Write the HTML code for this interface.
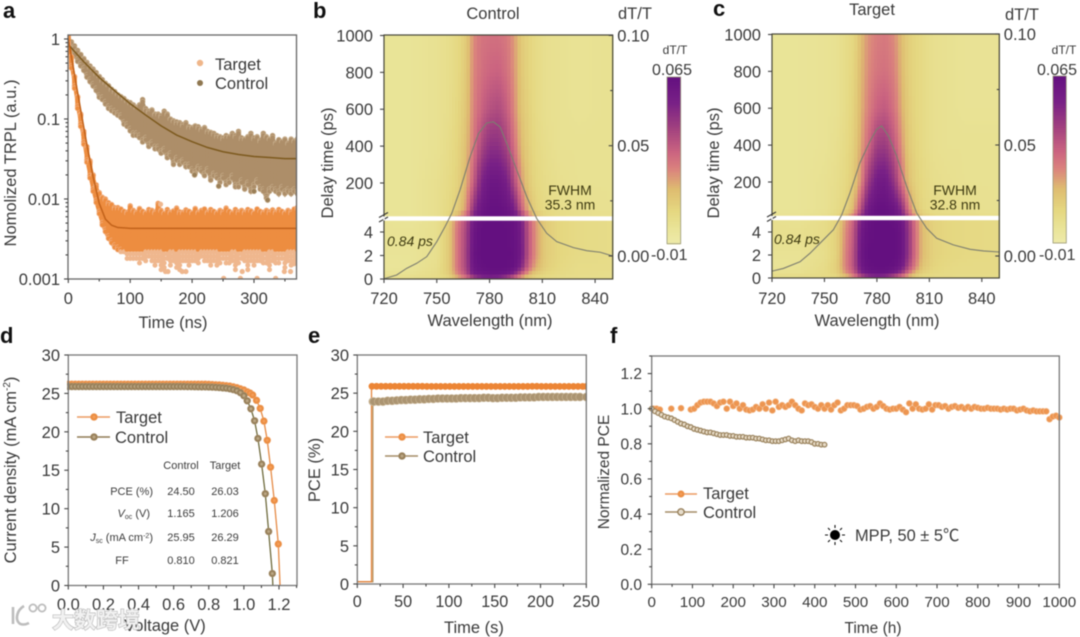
<!DOCTYPE html>
<html lang="en">
<head>
<meta charset="utf-8">
<title>Perovskite device characterisation figure</title>
<style>
html,body{margin:0;padding:0;background:#fff;width:1080px;height:637px;overflow:hidden}
svg{display:block;filter:blur(0.5px)}
text{font-family:"Liberation Sans","Noto Sans CJK SC",sans-serif;fill:#3a3a3a}
.t{font-size:16.5px}
.letter{font-size:22px;font-weight:bold;fill:#111}
.tbl{font-size:11px;fill:#3c3c3c}
.ann{font-size:14px;fill:#3f3b12}
</style>
</head>
<body>
<svg id="fig" xmlns="http://www.w3.org/2000/svg" width="1080" height="637" viewBox="0 0 1080 637">
<defs>
<radialGradient id="gt"><stop offset="0" stop-color="#f6a566"/><stop offset="0.7" stop-color="#ea8838"/><stop offset="1" stop-color="#eea873"/></radialGradient>
<radialGradient id="gc"><stop offset="0" stop-color="#cdb998"/><stop offset="0.7" stop-color="#8f7750"/><stop offset="1" stop-color="#b09a78"/></radialGradient>
<clipPath id="clipA"><rect x="68" y="35" width="228" height="244"/></clipPath>
<clipPath id="clipD"><rect x="67" y="355" width="230" height="231"/></clipPath>
<clipPath id="clipE"><rect x="357" y="355" width="230" height="229"/></clipPath>
</defs>
<rect width="1080" height="637" fill="#fff"/>

<g id="panelA"></g>
<g id="panelB"></g>
<g id="panelC"></g>
<g id="panelD"></g>
<g id="panelE"></g>
<g id="panelF"></g>

<text class="letter" x="3" y="18">a</text>
<text class="letter" x="313" y="18">b</text>
<text class="letter" x="713" y="16">c</text>
<text class="letter" x="0" y="343">d</text>
<text class="letter" x="308" y="343">e</text>
<text class="letter" x="610" y="343">f</text>

<!-- panel a text -->
<text class="t" transform="translate(16,163) rotate(-90)" text-anchor="middle">Nomolized TRPL (a.u.)</text>
<text class="t" x="173" y="328" text-anchor="middle">Time (ns)</text>
<g>
<circle cx="200" cy="63" r="3.2" fill="#efb68a"/>
<text class="t" x="215" y="70">Target</text>
<circle cx="200" cy="83" r="3" fill="#8f7750"/>
<text class="t" x="215" y="89">Control</text>
</g>

<!-- panel b text -->
<text class="t" x="493" y="19" text-anchor="middle" font-size="16">Control</text>
<text class="t" x="618" y="19">dT/T</text>
<text class="t" transform="translate(333,163) rotate(-90)" text-anchor="middle">Delay time (ps)</text>
<text class="t" x="490" y="326" text-anchor="middle">Wavelength (nm)</text>
<text x="675" y="54" text-anchor="middle" font-size="12">dT/T</text>
<text x="672" y="75" text-anchor="middle" font-size="16">0.065</text>
<text x="651" y="260" font-size="16">-0.01</text>

<!-- panel c text -->
<text class="t" x="872" y="15" text-anchor="middle" font-size="16">Target</text>
<text class="t" x="1005" y="20">dT/T</text>
<text class="t" transform="translate(719,163) rotate(-90)" text-anchor="middle">Delay time (ps)</text>
<text class="t" x="877" y="326" text-anchor="middle">Wavelength (nm)</text>
<text x="1064" y="54" text-anchor="middle" font-size="12">dT/T</text>
<text x="1057" y="75" text-anchor="middle" font-size="16">0.065</text>
<text x="1039" y="260" font-size="16">-0.01</text>

<!-- panel d text -->
<text class="t" transform="translate(16,470) rotate(-90)" text-anchor="middle">Current density (mA cm<tspan font-size="10" dy="-6">-2</tspan><tspan dy="6">)</tspan></text>
<text class="t" x="165" y="631" text-anchor="middle">Voltage (V)</text>
<g>
<line x1="77" y1="417" x2="110" y2="417" stroke="#ec9a62" stroke-width="1.4"/>
<circle cx="94" cy="417" r="3.8" fill="url(#gt)"/>
<text class="t" x="116" y="423">Target</text>
<line x1="77" y1="437" x2="110" y2="437" stroke="#8f7a55" stroke-width="1.4"/>
<circle cx="94" cy="437" r="3.8" fill="url(#gc)"/>
<text class="t" x="115" y="443">Control</text>
</g>
<g>
<text class="tbl" x="181" y="469" text-anchor="middle">Control</text>
<text class="tbl" x="225" y="469" text-anchor="middle">Target</text>
<text class="tbl" x="153" y="495" text-anchor="end">PCE (%)</text>
<text class="tbl" x="181" y="495" text-anchor="middle">24.50</text>
<text class="tbl" x="225" y="495" text-anchor="middle">26.03</text>
<text class="tbl" x="150" y="517" text-anchor="end"><tspan font-style="italic">V</tspan><tspan font-size="7" dy="2">oc</tspan><tspan dy="-2"> (V)</tspan></text>
<text class="tbl" x="181" y="517" text-anchor="middle">1.165</text>
<text class="tbl" x="225" y="517" text-anchor="middle">1.206</text>
<text class="tbl" x="153" y="541" text-anchor="end"><tspan font-style="italic">J</tspan><tspan font-size="7" dy="2">sc</tspan><tspan dy="-2"> (mA cm</tspan><tspan font-size="7" dy="-3">-2</tspan><tspan dy="3">)</tspan></text>
<text class="tbl" x="181" y="541" text-anchor="middle">25.95</text>
<text class="tbl" x="225" y="541" text-anchor="middle">26.29</text>
<text class="tbl" x="122" y="564" text-anchor="middle">FF</text>
<text class="tbl" x="181" y="564" text-anchor="middle">0.810</text>
<text class="tbl" x="225" y="564" text-anchor="middle">0.821</text>
</g>

<!-- panel e text -->
<text class="t" transform="translate(320,470) rotate(-90)" text-anchor="middle">PCE (%)</text>
<text class="t" x="474" y="633" text-anchor="middle">Time (s)</text>
<g>
<line x1="385" y1="437" x2="418" y2="437" stroke="#ec9a62" stroke-width="1.4"/>
<circle cx="402" cy="437" r="3.8" fill="url(#gt)"/>
<text class="t" x="423" y="443">Target</text>
<line x1="385" y1="456" x2="418" y2="456" stroke="#a58c66" stroke-width="1.4"/>
<circle cx="402" cy="456" r="3.8" fill="url(#gc)"/>
<text class="t" x="423" y="462">Control</text>
</g>

<!-- panel f text -->
<text class="t" transform="translate(609,472) rotate(-90)" text-anchor="middle" style="font-size:15.5px">Normalized PCE</text>
<text class="t" x="873" y="633" text-anchor="middle" style="font-size:15.5px">Time (h)</text>
<g>
<line x1="665" y1="494" x2="697" y2="494" stroke="#ec9a62" stroke-width="1.4"/>
<circle cx="681" cy="494" r="3.6" fill="url(#gt)"/>
<text class="t" x="703" y="499">Target</text>
<line x1="665" y1="512" x2="697" y2="512" stroke="#a58c66" stroke-width="1.4"/>
<circle cx="681" cy="512" r="3.2" fill="#e6dccb" stroke="#97805c" stroke-width="1.4"/>
<text class="t" x="703" y="518">Control</text>
</g>
<g stroke="#111" stroke-width="1.1">
<circle cx="835" cy="535" r="5" fill="#000" stroke="none"/>
<path d="M835 525v3M835 542v3M825 535h3M842 535h3M828 528l2 2M840 540l2 2M842 528l-2 2M830 540l-2 2" fill="none"/>
</g>
<text x="855" y="541" font-size="16.4">MPP, 50 ± 5℃</text>

<g id="overlay"></g>

<!-- watermark -->
<g>
<g fill="none" stroke="#bdbdbd" stroke-width="2.6">
<path d="M13 607v17M24 606c-7 4-9 13-5 17 2 2 6 2 10 0"/>
<circle cx="33" cy="608" r="3.6" stroke-width="1.8"/>
<circle cx="42" cy="608" r="3.6" stroke-width="1.8"/>
</g>
<text x="52" y="628" font-size="22" font-weight="700" style="fill:#f1f1f1;stroke:#b2b2b2;stroke-width:1.1;paint-order:stroke;font-family:'Liberation Sans','Noto Sans CJK SC',sans-serif">大数跨境</text>
</g>
</svg>

<script>
/* ---------- panel a data ---------- */
const aTimes=[0,5,10,15,20,25,30,35,40,45,50,55,60,65,70,75,80,85,90,95,100,105,110,115,120,125,130,135,140,145,150,155,160,165,170,175,180,185,190,195,200,205,210,215,220,225,230,235,240,245,250,255,260,265,270,275,280,285,290,295,300,305,310,315,320,325,330,335,340,345,350,355,360,365,370];
const aControlUpper=[1.05,.92,.82,.72,.64,.57,.51,.46,.42,.38,.34,.31,.28,.26,.235,.22,.2,.19,.18,.165,.16,.15,.14,.15,.175,.135,.125,.13,.115,.115,.11,.125,.115,.10,.095,.092,.09,.085,.09,.08,.078,.082,.08,.074,.078,.07,.068,.066,.062,.06,.058,.062,.06,.066,.062,.07,.058,.056,.06,.066,.058,.06,.054,.066,.06,.056,.062,.05,.055,.052,.056,.05,.056,.053,.056];
const aControlLower=[.85,.72,.6,.52,.45,.39,.33,.28,.25,.22,.18,.17,.15,.135,.125,.115,.11,.1,.085,.08,.07,.062,.06,.058,.05,.052,.045,.048,.042,.04,.036,.038,.032,.033,.027,.03,.026,.028,.024,.025,.022,.02,.023,.021,.019,.022,.017,.019,.018,.016,.018,.015,.016,.018,.014,.014,.016,.013,.015,.012,.014,.016,.013,.012,.0098,.012,.013,.012,.011,.013,.011,.012,.011,.012,.0115];
const aTargetUpper=[1.1,.6,.34,.19,.115,.07,.045,.03,.02,.015,.012,.0105,.01,.009,.0085,.0078,.0078,.0075,.0070,.0068,.0082,.0072,.0068,.0076,.0070,.0067,.0074,.0072,.0068,.0088,.0072,.0066,.0074,.0068,.0071,.0077,.0069,.0068,.0073,.0070,.0067,.0076,.0068,.0072,.0075,.0068,.0074,.0070,.0067,.0072,.0069,.0077,.0070,.0067,.0074,.0069,.0072,.0068,.0074,.0071,.0067,.0075,.0070,.0068,.0072,.0069,.0073,.0068,.0074,.0070,.0067,.0072,.0069,.0075,.0078];
const aTargetLower=[.8,.42,.24,.13,.08,.048,.028,.018,.012,.0085,.0062,.0046,.0037,.0031,.0027,.0024,.0023,.0021,.0020,.0018,.0016,.0018,.0016,.0015,.0018,.0016,.0017,.0015,.0014,.0016,.0013,.0013,.0016,.0014,.0015,.0013,.0013,.0016,.0015,.0014,.0016,.0016,.0014,.0017,.0015,.0016,.0014,.0016,.0014,.0015,.0016,.0015,.0014,.0016,.0013,.0014,.0016,.0015,.0013,.0016,.0014,.0015,.0016,.0014,.0015,.0013,.0016,.0015,.0014,.0016,.0013,.0015,.0014,.0016,.0015];
const aTargetOutlierTime=[149,157,161,184,190,251,278,281,305,335,349,359,365];
const aTargetOutlierValue=[.0086,.00124,.00124,.00124,.00124,.00102,.00102,.00124,.00102,.00102,.00124,.00124,.00155];
const aControlOutlierTime=[204,322,243,300];
const aControlOutlierValue=[.02,.0097,.0145,.0125];
const aControlFitTime=[0,25,50,75,100,125,150,175,200,225,250,275,300,325,350,370];
const aControlFitValue=[.85,.52,.33,.225,.155,.112,.082,.063,.052,.044,.039,.036,.034,.033,.032,.032];
const aTargetFitTime=[0,10,20,30,40,50,60,70,80,100,370];
const aTargetFitValue=[1,.36,.13,.048,.019,.0088,.0056,.0047,.0044,.0043,.0043];
const aXTicks=[0,100,200,300];
const aXMinor=[50,150,250,350];
const aYTicks=[1,0.1,0.01,0.001];
const aYTickLabels=['1','0.1','0.01','0.001'];

/* ---------- panels b, c data (dT/T x 1000) ---------- */
const hmWavelengths=[720,735,750,757,762,767,771,775,780,785,790,794,798,802,806,812,820,830,850];
const hmDelays=[1000,800,600,400,200,50,5,4,2,1,0.4,0];
const controlMatrix=[
[-3,-3,-1,1,4,10,22,27,28,28,26,20,10,6,3,0,-1,-2,-1],
[-3,-3,-1,1,4,11,23,28,31,32,28,21,11,6,3,0,-1,-2,-1],
[-3,-3,-1,1,5,12,24,31,37,39,33,23,12,7,3,0,-1,-2,-1],
[-3,-3,-1,2,6,14,26,39,48,48,41,28,15,8,4,1,-1,-1,-1],
[-3,-3,0,3,7,17,33,52,60,60,55,39,21,10,5,2,0,-1,-1],
[-3,-3,0,4,9,22,48,60,64,64,62,56,34,16,7,3,1,0,-1],
[-2,-3,0,9,26,40,58,64,65,65,64,63,56,34,20,9,5,3,2],
[-2,-2,0,10,28,42,60,65,65,65,65,63,57,35,21,9,5,3,2],
[-3,-3,0,10,28,43,62,65,65,65,65,64,58,35,21,9,5,3,2],
[-4,-3,1,10,28,42,60,64,65,65,65,63,52,30,17,8,4,2,2],
[-1,-1,2,9,24,38,56,60,62,62,60,50,31,16,9,5,3,2,1],
[1,1,2,5,14,24,36,46,50,46,35,24,14,8,5,3,2,1,1]];
const targetMatrix=[
[-3,-3,-2,-1,2,5,14,21,25,26,22,14,8,5,3,0,-1,-2,-2],
[-3,-3,-2,-1,2,6,15,22,27,28,24,15,8,5,3,0,-1,-2,-2],
[-3,-3,-2,-1,2,7,16,24,32,34,27,17,9,5,3,0,-1,-2,-2],
[-3,-3,-2,0,3,8,18,29,43,44,34,21,10,6,3,0,-1,-1,-1],
[-3,-3,-1,1,4,10,22,44,57,58,46,28,13,7,4,1,0,-1,-1],
[-3,-3,-1,2,6,16,38,58,64,64,61,50,26,11,5,2,1,0,-1],
[0,-1,2,6,20,34,55,63,65,65,64,60,44,26,13,7,5,4,3],
[0,0,2,7,22,36,58,64,65,65,65,62,46,27,14,7,5,4,3],
[-2,-2,1,7,24,38,60,65,65,65,65,62,46,27,14,7,5,4,3],
[-3,-2,2,8,24,38,58,64,65,65,64,58,40,24,12,6,4,3,3],
[0,0,3,7,20,32,52,60,62,62,56,44,26,13,7,4,3,3,3],
[3,3,3,4,10,20,32,42,46,42,30,20,12,6,4,3,3,2,2]];
const controlSpecWl=[720,727.2,732.9,738.6,744.3,750,754.7,758.5,763.2,768.9,773.7,778.4,782.2,786,789.8,795.5,801.2,806.8,812.5,818.2,827.7,835.3,842.9,850];
const controlSpecVal=[-.0103,-.0086,-.0056,-.0033,-.0003,.0065,.0133,.0193,.0299,.0449,.0555,.0603,.0608,.0585,.0510,.0389,.0268,.0170,.0103,.0065,.0038,.0024,.0017,0];
const targetSpecWl=[720,726.5,736,741.7,748.4,755.1,759.9,764.6,770.3,776.1,779.9,782.7,786.6,791.3,797,802.8,808.5,814.2,823.7,833.3,840.9,850];
const targetSpecVal=[-.0068,-.0056,-.0026,.0012,.0065,.0118,.0186,.0284,.0420,.0518,.0571,.0586,.0541,.0450,.0314,.0193,.0125,.0080,.0050,.0030,.0023,.0018];
const hmXTicks=[720,750,780,810,840];
const hmYTicksUpper=[1000,800,600,400,200];
const hmYTicksLower=[4,2,0];
const hmRightTicks=[0.10,0.05,0.00];
const hmRightLabels=['0.10','0.05','0.00'];
const hmRightMinor=[0.075,0.025];

/* ---------- panel d data ---------- */
const dTargetV=[0,.02,.04,.06,.08,.1,.12,.14,.16,.18,.2,.22,.24,.26,.28,.3,.32,.34,.36,.38,.4,.42,.44,.46,.48,.5,.52,.54,.56,.58,.6,.62,.64,.66,.68,.7,.72,.74,.76,.78,.8,.82,.84,.86,.88,.9,.92,.94,.96,.98,1.0,1.02,1.035,1.05,1.072,1.093,1.114,1.133,1.152,1.173,1.196];
const dTargetJ=[26.2,26.2,26.2,26.2,26.2,26.2,26.2,26.2,26.2,26.2,26.2,26.2,26.2,26.2,26.2,26.2,26.2,26.2,26.2,26.2,26.2,26.2,26.2,26.2,26.2,26.2,26.2,26.2,26.2,26.2,26.2,26.2,26.2,26.2,26.2,26.2,26.2,26.2,26.2,26.2,26.18,26.15,26.12,26.1,26.05,26,25.95,25.85,25.75,25.6,25.45,25.2,25.05,24.8,24.1,23.05,21.4,18.9,15.4,11.07,5.4];
const dControlV=[0,.02,.04,.06,.08,.1,.12,.14,.16,.18,.2,.22,.24,.26,.28,.3,.32,.34,.36,.38,.4,.42,.44,.46,.48,.5,.52,.54,.56,.58,.6,.62,.64,.66,.68,.7,.72,.74,.76,.78,.8,.82,.84,.86,.88,.9,.92,.94,.96,.98,1.0,1.019,1.04,1.061,1.08,1.101,1.122,1.141,1.162];
const dControlJ=[25.9,25.9,25.9,25.9,25.9,25.9,25.9,25.9,25.9,25.9,25.9,25.9,25.9,25.9,25.9,25.9,25.9,25.9,25.9,25.9,25.9,25.9,25.9,25.9,25.9,25.9,25.9,25.9,25.9,25.9,25.9,25.9,25.9,25.9,25.88,25.88,25.87,25.86,25.85,25.85,25.84,25.82,25.8,25.76,25.72,25.68,25.6,25.5,25.35,25.1,24.7,24.04,23,21.44,19.14,15.8,11.94,7.03,1.56];
const dXTicks=[0,.2,.4,.6,.8,1.0,1.2];
const dXTickLabels=['0.0','0.2','0.4','0.6','0.8','1.0','1.2'];
const dXMinor=[.1,.3,.5,.7,.9,1.1,1.3];
const dYTicks=[0,5,10,15,20,25,30];
const dYMinor=[2.5,7.5,12.5,17.5,22.5,27.5];

/* ---------- panel e data ---------- */
const eTargetTime=[0,15.5,15.5,16,21,26,31,36,41,46,51,56,61,66,71,76,81,86,91,96,101,106,111,116,121,126,131,136,141,146,151,156,161,166,171,176,181,186,191,196,201,206,211,216,221,226,231,236,241,246,250];
const eTargetPCE=[.3,.3,25.4,25.9,25.9,25.9,25.9,25.9,25.9,25.9,25.9,25.9,25.9,25.9,25.9,25.88,25.88,25.88,25.88,25.88,25.88,25.88,25.88,25.88,25.88,25.88,25.88,25.88,25.88,25.88,25.88,25.88,25.88,25.88,25.88,25.88,25.88,25.88,25.9,25.9,25.88,25.88,25.88,25.88,25.88,25.88,25.88,25.88,25.88,25.88,25.88];
const eControlTime=[0,17,17,18,23,28,33,38,43,48,53,58,63,68,73,78,83,88,93,98,103,108,113,118,123,128,133,138,143,148,153,158,163,168,173,178,183,188,193,198,203,208,213,218,223,228,233,238,243,250];
const eControlPCE=[.3,.3,23.9,23.9,23.9,23.9,24,24,24.05,24.1,24.1,24.15,24.15,24.2,24.2,24.25,24.25,24.3,24.3,24.3,24.3,24.3,24.35,24.35,24.35,24.35,24.35,24.4,24.4,24.35,24.35,24.4,24.4,24.4,24.4,24.45,24.45,24.45,24.45,24.5,24.5,24.5,24.5,24.5,24.5,24.5,24.5,24.5,24.5,24.5];
const eXTicks=[0,50,100,150,200,250];
const eXMinor=[25,75,125,175,225];
const eYTicks=[0,5,10,15,20,25,30];
const eYMinor=[2.5,7.5,12.5,17.5,22.5,27.5];

/* ---------- panel f data ---------- */
const fTargetTime=[4,12,20,48,72,96,104,112,120,128,136,144,152,160,168,176,184,192,200,208,216,224,232,240,248,256,264,272,280,288,296,304,312,320,328,336,344,352,360,368,376,384,392,400,408,416,424,432,440,448,456,464,472,480,488,496,504,512,520,528,536,544,552,560,568,576,584,592,600,608,616,624,632,640,648,656,664,672,680,688,696,704,712,720,728,736,744,752,760,768,776,784,792,800,808,816,824,832,840,848,856,864,872,880,888,896,904,912,920,928,936,944,952,960,968,976,984,992,1000];
const fTargetPCE=[1.0,1.0,.995,1.0,1.003,.995,1.0,1.02,1.035,1.04,1.04,1.04,1.03,1.015,1.035,1.04,1.0,1.04,1.015,1.03,1.0,1.02,.995,.99,.995,1.01,1.0,1.025,1.0,1.035,.99,1.04,1.01,1.02,1.01,1.02,1.04,1.02,1.0,.99,1.03,1.02,1.025,1.01,1.0,1.02,1.0,1.02,.995,1.02,1.035,.99,1.0,1.02,1.02,1.02,1.015,.995,1.0,1.01,1.015,1.0,1.01,1.03,1.015,1.0,.995,1.0,1.0,1.01,.995,.98,1.03,1.0,1.025,1.0,.995,1.0,1.025,.995,1.02,1.02,1.01,1.015,1.0,1.01,1.015,1.005,1.01,1.0,1.01,1.0,1.01,1.005,1.0,1.0,1.005,1.0,1.0,1.0,.995,1.0,.995,1.0,1.0,.99,.995,1.0,.99,.985,.99,.985,.985,.985,.985,.94,.955,.96,.95];
const fControlTime=[0,8,16,24,32,40,48,56,64,72,80,88,96,104,112,120,128,136,144,152,160,168,176,184,192,200,208,216,224,232,240,248,256,264,272,280,288,296,304,312,320,328,336,344,352,360,368,376,384,392,400,408,416,424];
const fControlPCE=[1.0,.985,.975,.965,.955,.95,.945,.935,.925,.915,.91,.90,.895,.885,.88,.875,.87,.865,.865,.86,.855,.85,.85,.85,.845,.845,.84,.84,.84,.835,.835,.835,.83,.83,.825,.82,.82,.815,.815,.815,.82,.825,.83,.82,.815,.82,.815,.815,.815,.81,.80,.80,.795,.795];
const fXTicks=[0,100,200,300,400,500,600,700,800,900,1000];
const fXMinor=[50,150,250,350,450,550,650,750,850,950];
const fYTicks=[0,.2,.4,.6,.8,1.0,1.2];
const fYTickLabels=['0.0','0.2','0.4','0.6','0.8','1.0','1.2'];
const fYMinor=[.1,.3,.5,.7,.9,1.1,1.3];

/* ---------- helpers ---------- */
const NS='http://www.w3.org/2000/svg';
function mk(tag,props,parent){
  const e=document.createElementNS(NS,tag);
  for(const k in props) e.setAttribute(k,props[k]);
  parent.appendChild(e);
  return e;
}
function linear(d0,d1,r0,r1){return v=>r0+(v-d0)*(r1-r0)/(d1-d0);}
function logScale(yAtOne,pxPerDecade){return v=>yAtOne-Math.log10(v)*pxPerDecade;}

function addTick(g,x1,y1,x2,y2){
  const l=mk('line',{x1:x1,y1:y1,x2:x2,y2:y2,stroke:'#444',"stroke-width":1.1},g);
  
  
}
function addLabel(g,x,y,str,anchor,size){
  const t=mk('text',{x:x,y:y,"text-anchor":anchor,"font-size":size},g);
  
  
  t.textContent=str;
}
function addFrame(g,x0,y0,x1,y1,color,w){
  const r=mk('rect',{x:x0,y:y0,width:x1-x0,height:y1-y0,fill:'none',stroke:color,"stroke-width":w},g);
  
  
}
function xTicks(g,sx,vals,labels,yAxis,baseline,size,minor){
  vals.forEach((v,i)=>{
    addTick(g,sx(v),yAxis,sx(v),yAxis+4);
    addLabel(g,sx(v),baseline,labels?labels[i]:String(v),'middle',size);
  });
  (minor||[]).forEach(v=>addTick(g,sx(v),yAxis,sx(v),yAxis+2.5));
}
function yTicks(g,sy,vals,labels,xAxis,labelX,size,minor){
  vals.forEach((v,i)=>{
    addTick(g,xAxis-4,sy(v),xAxis,sy(v));
    addLabel(g,labelX,sy(v)+size*0.36,labels?labels[i]:String(v),'end',size);
  });
  (minor||[]).forEach(v=>addTick(g,xAxis-2.5,sy(v),xAxis,sy(v)));
}
function pathFrom(xs,ys,sx,sy){
  return xs.map((x,i)=>(i?'L':'M')+sx(x).toFixed(2)+' '+sy(ys[i]).toFixed(2)).join('');
}

/* ---------- panel a ---------- */
(function(){
  const g=document.getElementById('panelA');
  const sx=linear(0,300,68.3,254);
  const sy=logScale(39,80);
  const cloud=mk('g',{"clip-path":'url(#clipA)'},g);
  
  
  const STEP=0.028;
  function drawCloud(upper,lower,fill,edge,paleBelow,paleFill,name){
    const lowClamped=lower.map(v=>Math.max(v,paleBelow));
    const xs=aTimes.concat(aTimes.slice().reverse());
    const ys=upper.concat(lowClamped.slice().reverse());
    const band=mk('path',{d:pathFrom(xs,ys,sx,sy)+'Z',fill:fill,stroke:fill,"stroke-width":2},cloud);
    
    
    aTimes.forEach((t,i)=>{
      const lo=Math.log10(lower[i]),hi=Math.log10(upper[i]);
      const levels=[hi];
      for(let k=Math.floor(hi/STEP);k*STEP>=lo;k--) levels.push(k*STEP);
      levels.forEach((lv,n)=>{
        const val=Math.pow(10,lv);
        const pale=val<paleBelow;
        if(pale&&(i+2*n)%4>1) return;
        const onEdge=n<2||n>=levels.length-2;
        const c=mk('circle',{cx:sx(t).toFixed(1),cy:sy(val).toFixed(1),r:2.5,fill:pale?paleFill:fill,stroke:(onEdge&&!pale)?edge:'none',"stroke-width":0.6},cloud);
        
        
      });
    });
  }
  drawCloud(aControlUpper,aControlLower,'#ad8e69','#c9b08e',0,'#ad8e69','control-trpl-point');
  drawCloud(aTargetUpper,aTargetLower,'#ed8d40','#f2b48a',0.0023,'#efb78e','target-trpl-point');
  aControlOutlierTime.forEach((t,i)=>{
    const c=mk('circle',{cx:sx(t),cy:sy(aControlOutlierValue[i]),r:2.6,fill:'#9a7f58',stroke:'#cdb492',"stroke-width":0.6},cloud);
    
    
  });
  aTargetOutlierTime.forEach((t,i)=>{
    const c=mk('circle',{cx:sx(t),cy:sy(aTargetOutlierValue[i]),r:2.6,fill:'#efb78e'},cloud);
    
    
  });
  const f1=mk('path',{d:pathFrom(aControlFitTime,aControlFitValue,sx,sy),fill:'none',stroke:'#7d5a1e',"stroke-width":1.5},cloud);
  
  
  const f2=mk('path',{d:pathFrom(aTargetFitTime,aTargetFitValue,sx,sy),fill:'none',stroke:'#c2621a',"stroke-width":1.5},cloud);
  
  
  addFrame(g,68,35,296.5,279,'#666',1.3);
  xTicks(g,sx,aXTicks,null,279,304,16.5,aXMinor);
  yTicks(g,sy,aYTicks,aYTickLabels,68,60,16.5);
  [-1,-2,-3].forEach(d=>{
    [2,3,4,5,6,7,8,9].forEach(m=>addTick(g,65.5,sy(m*Math.pow(10,d)),68,sy(m*Math.pow(10,d))));
  });
})();

/* ---------- panels b, c ---------- */
const cmapStops=[[0,238,235,170],[.1,233,227,150],[.2,229,215,128],[.33,222,188,112],[.45,218,130,125],[.55,203,100,128],[.7,160,64,127],[.85,120,32,134],[1,100,16,128]];
function cmap(v){
  const f=Math.max(0,Math.min(1,(v+10)/75));
  for(let i=1;i<cmapStops.length;i++){
    if(f<=cmapStops[i][0]){
      const a=cmapStops[i-1],b=cmapStops[i],u=(f-a[0])/(b[0]-a[0]);
      return 'rgb('+[1,2,3].map(k=>Math.round(a[k]+(b[k]-a[k])*u)).join(',')+')';
    }
  }
  return 'rgb(100,16,128)';
}
function heatPanel(cfg){
  const g=document.getElementById(cfg.id);
  const x0=cfg.x0,x1=cfg.x1,yTop=cfg.yTop,yBot=cfg.yBot;
  const sx=linear(720,850,x0,x1);
  const upper=linear(1000,200,yTop+0.5,cfg.y200);
  const lower=linear(0,4,yBot,cfg.y4);
  const sy=d=>d>5?upper(d):lower(d);
  const right=linear(0,0.05,cfg.r0,cfg.r05);
  const cells=mk('g',{"shape-rendering":'crispEdges'},g);
  
  
  const M=cfg.matrix;
  for(let i=0;i<hmWavelengths.length-1;i++){
    const xa=sx(hmWavelengths[i]),xb=sx(hmWavelengths[i+1]);
    const nx=Math.max(1,Math.round((xb-xa)/3));
    for(let j=0;j<hmDelays.length-1;j++){
      const ya=sy(hmDelays[j]),yb=sy(hmDelays[j+1]);
      const ny=Math.max(1,Math.round((yb-ya)/4));
      for(let a=0;a<nx;a++){
        for(let b=0;b<ny;b++){
          const u=(a+.5)/nx,w=(b+.5)/ny;
          const v=(1-u)*(1-w)*M[j][i]+u*(1-w)*M[j][i+1]+(1-u)*w*M[j+1][i]+u*w*M[j+1][i+1];
          const r=mk('rect',{x:(xa+(xb-xa)*a/nx).toFixed(2),y:(ya+(yb-ya)*b/ny).toFixed(2),width:((xb-xa)/nx+.6).toFixed(2),height:((yb-ya)/ny+.6).toFixed(2),fill:cmap(v)},cells);
          
          
        }
      }
    }
  }
  const band=mk('rect',{x:x0,y:cfg.breakY-2.2,width:x1-x0+1,height:4.4,fill:'#fff'},g);
  
  
  const spec=mk('path',{d:pathFrom(cfg.specWl,cfg.specVal,sx,right),fill:'none',stroke:'#7c7d70',"stroke-width":1.1},g);
  
  
  addFrame(g,x0,yTop,x1,yBot,'#46463a',1.2);
  const brk=mk('path',{d:'M'+(x0-5)+' '+(cfg.breakY-1)+'l9 -5M'+(x0-5)+' '+(cfg.breakY+3.5)+'l9 -5',stroke:'#333',"stroke-width":1.1,fill:'none'},g);
  
  
  const brkW=mk('rect',{x:x0-0.7,y:cfg.breakY-2,width:1.4,height:4,fill:'#fff'},g);
  
  
  xTicks(g,sx,hmXTicks,null,yBot,304,16.5);
  yTicks(g,upper,hmYTicksUpper,null,x0,x0-11,16.5);
  yTicks(g,lower,hmYTicksLower,null,x0,x0-11,16.5);
  hmRightTicks.forEach((v,i)=>{
    addTick(g,x1-4,right(v),x1,right(v));
    addLabel(g,x1+4.5,right(v)+6,hmRightLabels[i],'start',16.5);
  });
  hmRightMinor.forEach(v=>addTick(g,x1-2.5,right(v),x1,right(v)));
  const cb=mk('g',{"shape-rendering":'crispEdges'},g);
  
  
  const cy=linear(-10,65,cfg.cbBot,cfg.cbTop);
  for(let v=-10;v<65;v+=1){
    const s=mk('rect',{x:cfg.cbX,y:cy(v+1).toFixed(2),width:cfg.cbW,height:(cy(v)-cy(v+1)+.6).toFixed(2),fill:cmap(v+.5)},cb);
    
    
  }
  const cf=mk('rect',{x:cfg.cbX,y:cfg.cbTop,width:cfg.cbW,height:cfg.cbBot-cfg.cbTop,fill:'none',stroke:'#99987a',"stroke-width":0.8},g);
  
  
}
heatPanel({id:'panelB',x0:384,x1:612.7,yTop:35,yBot:279,y200:183,y4:232,breakY:218.5,r0:256,r05:145.7,matrix:controlMatrix,specWl:controlSpecWl,specVal:controlSpecVal,cbX:667,cbW:13.7,cbTop:77,cbBot:243.7});
heatPanel({id:'panelC',x0:772,x1:999.3,yTop:34,yBot:278,y200:182,y4:232,breakY:218,r0:256,r05:145,matrix:targetMatrix,specWl:targetSpecWl,specVal:targetSpecVal,cbX:1053,cbW:13.3,cbTop:76,cbBot:243});

/* annotations above heatmaps */
(function(){
  const o=document.getElementById('overlay');
  const notes=[['FWHM',570,195,'middle','fwhm-label-control',false],['35.3 nm',570,209.5,'middle','fwhm-value-control',false],['0.84 ps',387,246,'start','lifetime-label-control',true],
               ['FWHM',955,195,'middle','fwhm-label-target',false],['32.8 nm',955,209.5,'middle','fwhm-value-target',false],['0.84 ps',774,244,'start','lifetime-label-target',true]];
  notes.forEach(n=>{
    const t=mk('text',{x:n[1],y:n[2],"text-anchor":n[3],class:'ann'},o);
    
    
    if(n[5]) t.setAttribute('font-style','italic');
    t.textContent=n[0];
  });
})();

/* ---------- panel d ---------- */
(function(){
  const g=document.getElementById('panelD');
  const sx=linear(0,1.2,68.3,279);
  const sy=linear(0,30,585.5,355);
  const body=mk('g',{"clip-path":'url(#clipD)'},g);
  
  
  const l1=mk('path',{d:pathFrom(dTargetV.concat([1.206]),dTargetJ.concat([0]),sx,sy),fill:'none',stroke:'#e58a45',"stroke-width":1.3},body);
  
  
  const l2=mk('path',{d:pathFrom(dControlV.concat([1.165]),dControlJ.concat([0]),sx,sy),fill:'none',stroke:'#6e6a3c',"stroke-width":1.3},body);
  
  
  dTargetV.forEach((v,i)=>{
    const c=mk('circle',{cx:sx(v),cy:sy(dTargetJ[i]),r:3.7,fill:'url(#gt)'},body);
    
    
  });
  dControlV.forEach((v,i)=>{
    const c=mk('circle',{cx:sx(v),cy:sy(dControlJ[i]),r:3.7,fill:'url(#gc)'},body);
    
    
  });
  addFrame(g,68.3,355,297,585.5,'#777',1.3);
  xTicks(g,sx,dXTicks,dXTickLabels,585.5,610,16.5,dXMinor);
  yTicks(g,sy,dYTicks,null,68.3,60,16.5,dYMinor);
})();

/* ---------- panel e ---------- */
(function(){
  const g=document.getElementById('panelE');
  const sx=linear(0,250,357.3,586.3);
  const sy=linear(0,30,584,355);
  const body=mk('g',{"clip-path":'url(#clipE)'},g);
  
  
  const l2=mk('path',{d:pathFrom(eControlTime,eControlPCE,sx,sy),fill:'none',stroke:'#b69463',"stroke-width":1.3},body);
  
  
  const l1=mk('path',{d:pathFrom(eTargetTime,eTargetPCE,sx,sy),fill:'none',stroke:'#e3853e',"stroke-width":1.3},body);
  
  
  eControlTime.forEach((t,i)=>{
    if(i<2) return;
    const c=mk('circle',{cx:sx(t),cy:sy(eControlPCE[i]),r:4,fill:'#ab9471',stroke:'#c9b595',"stroke-width":0.6},body);
    
    
  });
  eTargetTime.forEach((t,i)=>{
    if(i<3) return;
    const c=mk('circle',{cx:sx(t),cy:sy(eTargetPCE[i]),r:3.4,fill:'#ec8535'},body);
    
    
  });
  addFrame(g,357.3,355,586.3,584,'#777',1.3);
  xTicks(g,sx,eXTicks,null,584,607,16.2,eXMinor);
  yTicks(g,sy,eYTicks,null,357.3,349,16.5,eYMinor);
})();

/* ---------- panel f ---------- */
(function(){
  const g=document.getElementById('panelF');
  const sx=linear(0,1000,651.7,1059.3);
  const sy=linear(0,1.3,584.3,356);
  fTargetTime.forEach((t,i)=>{
    const c=mk('circle',{cx:sx(t),cy:sy(fTargetPCE[i]),r:3,fill:'#ed9550',stroke:'#f2b98a',"stroke-width":0.6},g);
    
    
  });
  fControlTime.forEach((t,i)=>{
    const c=mk('circle',{cx:sx(t),cy:sy(fControlPCE[i]),r:2.3,fill:'#e8dcc8',stroke:'#9c8560',"stroke-width":1.3},g);
    
    
  });
  addFrame(g,651.7,356,1059.3,584.3,'#777',1.3);
  xTicks(g,sx,fXTicks,null,584.3,607,15.2,fXMinor);
  yTicks(g,sy,fYTicks,fYTickLabels,651.7,642,15.5,fYMinor);
})();
</script>
</body>
</html>
